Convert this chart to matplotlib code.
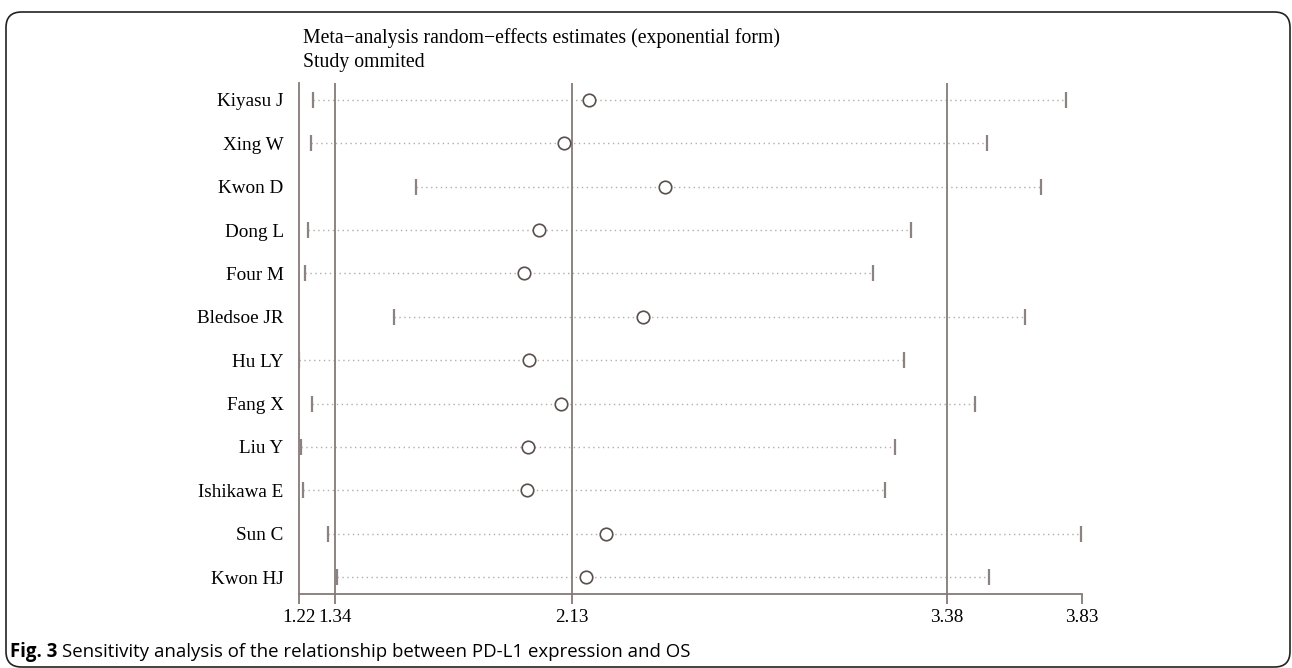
import matplotlib
matplotlib.use('Agg')
import matplotlib.pyplot as plt
from matplotlib.patches import FancyBboxPatch

# study omitted, estimate and 95% CI (exponential form)
studies = ['Kiyasu J', 'Xing W', 'Kwon D', 'Dong L', 'Four M', 'Bledsoe JR',
           'Hu LY', 'Fang X', 'Liu Y', 'Ishikawa E', 'Sun C', 'Kwon HJ']
est = [2.187, 2.103, 2.440, 2.019, 1.971, 2.366,
       1.986, 2.093, 1.982, 1.979, 2.243, 2.177]
lower = [1.267, 1.259, 1.609, 1.250, 1.241, 1.538,
         1.220, 1.262, 1.226, 1.234, 1.318, 1.348]
upper = [3.777, 3.514, 3.693, 3.261, 3.132, 3.640,
         3.236, 3.473, 3.207, 3.173, 3.827, 3.520]
xticks = [1.22, 1.34, 2.13, 3.38, 3.83]
ref_lines = [1.34, 2.13, 3.38]

W, H = 1292, 668
fig = plt.figure(figsize=(W / 100, H / 100), dpi=100)

serif = 'Liberation Serif'
line_col = '#857a77'
dot_col = '#b3adab'
bar_col = '#8c8380'
circ_col = '#5a4f4c'

# axes placed in pixel terms
x0, x1 = 299, 1082
ytop, ybot = 83, 594
ax = fig.add_axes([x0 / W, (H - ybot) / H, (x1 - x0) / W, (ybot - ytop) / H])

ypos = list(range(1, len(studies) + 1))
for y, lo, e, hi in zip(ypos, lower, est, upper):
    ax.plot([lo, hi], [y, y], color=dot_col, lw=1.0, linestyle=(0, (1, 2.5)), zorder=1)
    ax.plot([lo, hi], [y, y], linestyle='none', marker='|', markersize=11,
            markeredgewidth=1.6, color=bar_col, zorder=3)
    ax.plot([e], [y], linestyle='none', marker='o', markersize=9,
            markerfacecolor='white', markeredgecolor=circ_col, markeredgewidth=1.2, zorder=4)

for v in ref_lines:
    ax.axvline(v, color=line_col, lw=1.3, zorder=2)

ax.set_xlim(xticks[0], xticks[-1])
ax.set_ylim(12.392, 0.608)
ax.set_xticks(xticks)
ax.set_xticklabels(['%.2f' % t for t in xticks], fontfamily=serif, fontsize=13.8)
ax.set_yticks(ypos)
ax.set_yticklabels(studies, fontfamily=serif, fontsize=13.8)
ax.tick_params(axis='x', length=7.5, width=1.3, color=line_col, pad=3)
ax.tick_params(axis='y', length=0, pad=11)
for s in ['top', 'right']:
    ax.spines[s].set_visible(False)
for s in ['left', 'bottom']:
    ax.spines[s].set_color(line_col)
    ax.spines[s].set_linewidth(1.3)
ax.patch.set_alpha(0)

fig.text(303 / W, 1 - 38 / H, 'Meta\u2212analysis random\u2212effects estimates (exponential form)',
         fontfamily=serif, fontsize=14.2, va='center', ha='left')
fig.text(303 / W, 1 - 62 / H, 'Study ommited',
         fontfamily=serif, fontsize=14.2, va='center', ha='left')

# caption and frame
t = fig.text(10 / W, 1 - 652 / H, 'Fig. 3', fontfamily='Open Sans', fontweight='bold',
             fontsize=13.4, va='center', ha='left')
fig.canvas.draw()
bb = t.get_window_extent()
fig.text((bb.x1 + 5) / W, 1 - 652 / H,
         'Sensitivity analysis of the relationship between PD-L1 expression and OS',
         fontfamily='Open Sans', fontsize=13.4, va='center', ha='left')

frame = FancyBboxPatch((6 / W, 1 / H), 1284 / W, 655 / H,
                       boxstyle='round,pad=0,rounding_size=0.012',
                       transform=fig.transFigure, fill=False, edgecolor='#222222',
                       lw=1.2, mutation_aspect=W / H)
fig.patches.append(frame)

fig.savefig('out.png', dpi=100)
